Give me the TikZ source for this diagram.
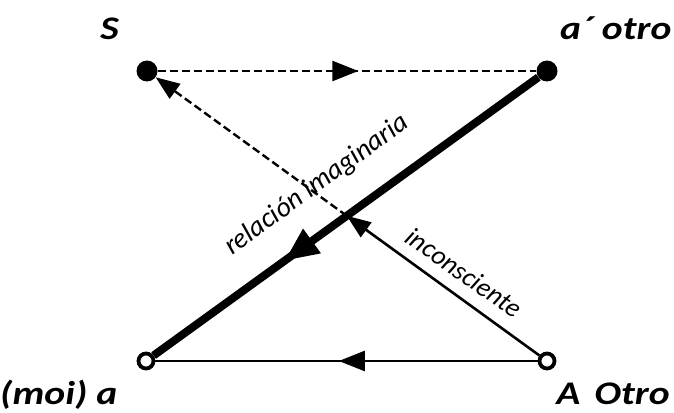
\documentclass[tikz,border=0pt]{standalone}
\usepackage{fontspec}
\setmainfont{Carlito}
\newfontfamily\lblfont[FakeStretch=1.2]{Carlito}
\usetikzlibrary{arrows.meta,decorations.markings,backgrounds}
\tikzset{
  dot/.style={circle, fill=black, inner sep=0pt, minimum size=21pt},
  hole/.style={circle, draw=black, line width=3.8pt, fill=white, inner sep=0pt, minimum size=15pt},
  lbl/.style={font=\lblfont\fontsize{33}{38}\selectfont\bfseries\itshape, inner sep=0pt},
  rel/.style={font=\fontsize{28}{32}\selectfont\itshape, inner sep=0pt},
  midar/.style={postaction={decorate}, decoration={markings,
      mark=at position #1 with {\arrow[solid]{Triangle[length=26pt,width=20pt]}}}},
  bigar/.style={postaction={decorate}, decoration={markings,
      mark=at position #1 with {\arrow{Triangle[length=34pt,width=28pt]}}}}
}
\begin{document}
\begin{tikzpicture}[
  x=1pt, y=-1pt,
  dsh/.style={line width=2.4pt, dash pattern=on 8pt off 4pt},
  thn/.style={line width=2.6pt},
  thk/.style={line width=8pt},
  tip/.style={-{Triangle[length=24pt,width=18pt]}}
]
\useasboundingbox (0,0) rectangle (674,412);
% ---- points of the schema ----
\node[dot] (S) at (147,71) {};
\node[dot] (ao) at (547,71) {};
\node[hole] (moi) at (146,361) {};
\node[hole] (A) at (547,361) {};
\coordinate (X) at (intersection of A--S and ao--moi);
% ---- labels ----
\node[lbl, anchor=base east] (tS) at (119,40) {S};
\node[lbl, anchor=base west] (tao) at (560,40) {a´ otro};
\node[lbl, anchor=base west] (tmoi) at (0,404) {(moi) a};
\node[lbl, anchor=base east] (tA) at (670,404) {A\, Otro};
% ---- connectors ----
\begin{scope}[on background layer]
\draw[dsh, midar=0.53] (S) -- (ao);
\draw[dsh, tip] (X) -- (S);
\draw[thn, tip] (A) -- (X);
\draw[thn, midar=0.52] (A) -- (moi);
\draw[thk, bigar=0.66] (ao) -- (moi);
\end{scope}
% ---- line texts ----
\node[rel, rotate=36, anchor=base] (tri) at (321,191) {relación imaginaria};
\node[rel, rotate=-35, anchor=base, font=\fontsize{27}{31}\selectfont\itshape] (tinc) at (459,280) {inconsciente};
\end{tikzpicture}
\end{document}
